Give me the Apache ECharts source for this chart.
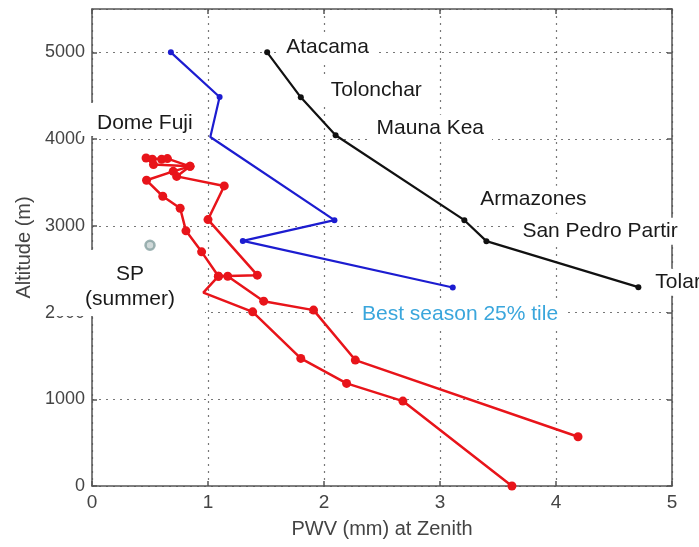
<!DOCTYPE html>
<html>
<head>
<meta charset="utf-8">
<script src="https://cdn.jsdelivr.net/npm/echarts@6/dist/echarts.min.js"></script>
<style>html,body{margin:0;padding:0;background:#fff}#c{width:699px;height:547px}</style>
</head>
<body>
<div id="c"></div>
<script>
// ---- data ----
const siteNames = ['Atacama', 'Tolonchar', 'Mauna Kea', 'Armazones', 'San Pedro Partir', 'Tolar'];
const sitePwv = [1.51, 1.80, 2.10, 3.21, 3.40, 4.71];
const siteAlt = [5000, 4482, 4044, 3065, 2823, 2293];

const bestPwv = [0.68, 1.10, 1.02, 2.09, 1.30, 3.11];
const bestAlt = [5000, 4485, 4024, 3065, 2826, 2289];

const redAPwv = [0.466, 0.60, 0.65, 0.845, 0.70, 0.47, 0.61, 0.76, 0.81, 0.945, 1.09, 0.96, 1.385, 1.80, 2.195, 2.68, 3.62];
const redAAlt = [3782, 3767, 3775, 3686, 3628, 3525, 3341, 3203, 2942, 2700, 2419, 2230, 2008, 1471, 1183, 979, 0];

const redBPwv = [0.52, 0.53, 0.845, 0.73, 1.14, 1.00, 1.425, 1.09, 1.17, 1.48, 1.91, 2.27, 4.19];
const redBAlt = [3767, 3706, 3686, 3570, 3460, 3072, 2431, 2419, 2419, 2131, 2028, 1452, 568];

const spPwv = [0.50];
const spAlt = [2776];

const xTicks = [0, 1, 2, 3, 4, 5];
const yTicks = [0, 1000, 2000, 3000, 4000, 5000];

// ---- style (kept separate from data) ----
const siteLabelOffsets = [[8, -5], [19, -7], [30, -7], [5, -21], [25, -10], [6, -5]];
const redANoMarker = [11];
const redBNoMarker = [];
const FONT = '"Liberation Sans", Arial, sans-serif';

const pairs = (xs, ys) => xs.map((x, i) => [x, ys[i]]);

const chart = echarts.init(document.getElementById('c'), null, {renderer: 'canvas'});

const axisLine = {show: true, onZero: false, lineStyle: {color: '#555', width: 1.5}};
const axisTick = {show: true, inside: true, length: 5, lineStyle: {color: '#555', width: 1.5}};

const option = {
  animation: false,
  backgroundColor: '#fff',
  grid: {left: 92, top: 9, right: 27, bottom: 61, containLabel: false},
  xAxis: [
    {
      type: 'value', min: 0, max: 5, interval: 1, position: 'bottom',
      axisLine, axisTick,
      name: 'PWV (mm) at Zenith', nameLocation: 'middle', nameGap: 33,
      nameTextStyle: {fontFamily: FONT, fontSize: 20, color: '#444'},
      axisLabel: {fontFamily: FONT, fontSize: 19, color: '#444', margin: 7,
        formatter: v => xTicks.includes(v) ? String(v) : ''},
      splitLine: {show: true, lineStyle: {type: [2, 5], color: '#777', width: 1.2}},
    },
    {
      type: 'value', min: 0, max: 5, interval: 1, position: 'top',
      axisLine, axisTick,
      axisLabel: {show: false}, splitLine: {show: false},
    },
  ],
  yAxis: [
    {
      type: 'value', min: 0, max: 5500, interval: 1000, position: 'left',
      axisLine, axisTick,
      name: 'Altitude (m)', nameLocation: 'middle', nameGap: 58,
      nameTextStyle: {fontFamily: FONT, fontSize: 20, color: '#444'},
      axisLabel: {fontFamily: FONT, fontSize: 18, color: '#444', margin: 7, showMaxLabel: false,
        formatter: v => yTicks.includes(v) ? String(v) : ''},
      splitLine: {show: true, lineStyle: {type: [2, 5], color: '#777', width: 1.2}},
    },
    {
      type: 'value', min: 0, max: 5500, interval: 1000, position: 'right',
      axisLine, axisTick,
      axisLabel: {show: false}, splitLine: {show: false},
    },
  ],
  series: [
    {
      type: 'line', name: 'redA', data: pairs(redAPwv, redAAlt),
      lineStyle: {color: '#e8141a', width: 2.5},
      itemStyle: {color: '#e8141a'},
      symbol: 'circle',
      symbolSize: (v, p) => redANoMarker.includes(p.dataIndex) ? 0 : 9,
      z: 3,
    },
    {
      type: 'line', name: 'redB', data: pairs(redBPwv, redBAlt),
      lineStyle: {color: '#e8141a', width: 2.5},
      itemStyle: {color: '#e8141a'},
      symbol: 'circle',
      symbolSize: (v, p) => redBNoMarker.includes(p.dataIndex) ? 0 : 9,
      z: 3,
    },
    {
      type: 'line', name: 'best', data: pairs(bestPwv, bestAlt),
      lineStyle: {color: '#1c1cd0', width: 2.2},
      itemStyle: {color: '#1c1cd0'},
      symbol: 'circle',
      symbolSize: (v, p) => p.dataIndex === 2 ? 0 : 6,
      z: 4,
    },
    {
      type: 'line', name: 'sites',
      data: sitePwv.map((x, i) => ({
        value: [x, siteAlt[i]],
        label: {
          show: true, position: 'right', distance: 0, offset: siteLabelOffsets[i],
          formatter: siteNames[i], fontFamily: FONT, fontSize: 21, color: '#1a1a1a',
          backgroundColor: '#fff', padding: [3, 8],
        },
      })),
      lineStyle: {color: '#111', width: 2.2},
      itemStyle: {color: '#111'},
      symbol: 'circle', symbolSize: 6,
      z: 5,
    },
    {
      type: 'scatter', name: 'SP', data: pairs(spPwv, spAlt),
      symbol: 'circle', symbolSize: 9,
      itemStyle: {color: '#c4d0d0', borderColor: '#86a0a0', borderWidth: 2.5},
      z: 101,
    },
  ],
  graphic: [
    {type: 'rect', z: 1, shape: {x: 81, y: 103, width: 114, height: 33}, style: {fill: '#fff'}},
    {type: 'text', z: 100,
      style: {x: 97, y: 123, text: 'Dome Fuji', font: '21px ' + FONT, fill: '#1a1a1a', verticalAlign: 'middle'}},
    {type: 'rect', z: 1, shape: {x: 55, y: 250, width: 150, height: 66}, style: {fill: '#fff'}},
    {type: 'text', z: 100,
      style: {x: 130, y: 274, text: 'SP', font: '21px ' + FONT, fill: '#1a1a1a', align: 'center', verticalAlign: 'middle'}},
    {type: 'text', z: 100,
      style: {x: 130, y: 299, text: '(summer)', font: '21px ' + FONT, fill: '#1a1a1a', align: 'center', verticalAlign: 'middle'}},
    {type: 'text', z: 100,
      style: {x: 356, y: 314, text: 'Best season 25% tile', font: '21px ' + FONT, fill: '#3aa6dc', verticalAlign: 'middle',
        backgroundColor: '#fff', padding: [2, 6]}},
  ],
};
chart.setOption(option);
</script>
</body>
</html>
